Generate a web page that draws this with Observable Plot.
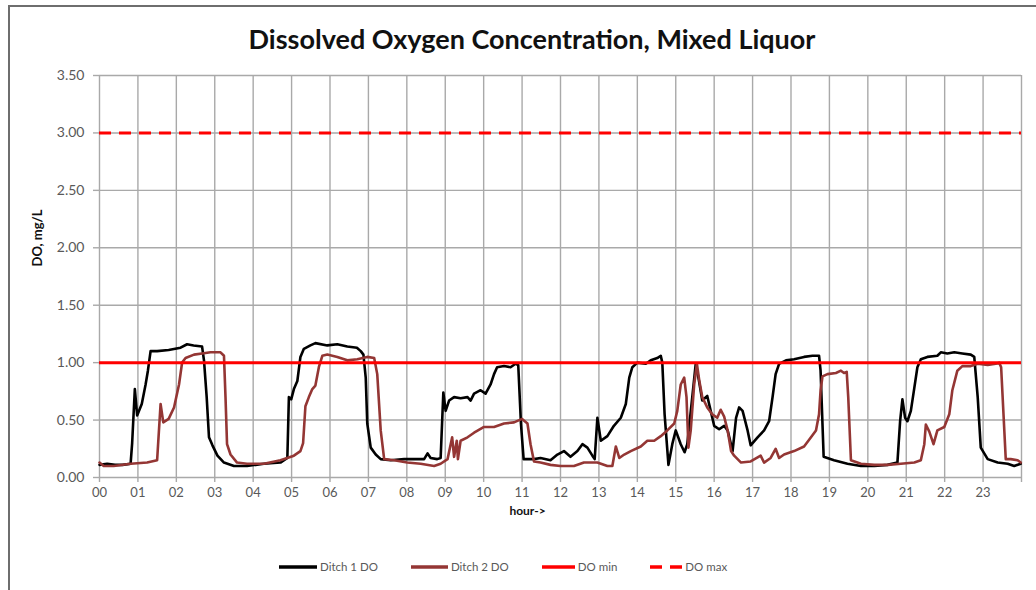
<!DOCTYPE html>
<html>
<head>
<meta charset="utf-8">
<script src="https://cdn.jsdelivr.net/npm/d3@7"></script>
<script src="https://cdn.jsdelivr.net/npm/@observablehq/plot@0.6"></script>
<style>
  html, body { margin: 0; padding: 0; background: #fff; }
  #wrap { position: relative; width: 1036px; height: 590px; overflow: hidden; font-family: Lato, "Open Sans", sans-serif; }
  #border { position: absolute; left: 8px; top: 5px; width: 1040px; height: 600px; border-left: 2.5px solid #6e6e6e; border-top: 2.5px solid #6e6e6e; box-sizing: border-box; pointer-events: none; }
  #title { height: 60px; box-sizing: border-box; padding-top: 23px; padding-left: 28px; text-align: center; font-size: 27px; font-weight: 700; color: #111; line-height: 32px; }
  #chart svg { display: block; }
  #legend { display: flex; align-items: center; padding-left: 279px; margin-top: 30px; font-size: 11.5px; color: #595959; }
  .item { display: flex; align-items: center; margin-right: 33px; }
  .item svg { margin-right: 3px; }
</style>
</head>
<body>
<div id="wrap">
  <div id="border"></div>
  <div id="title">Dissolved Oxygen Concentration, Mixed Liquor</div>
  <div id="chart"></div>
  <div id="legend"></div>
</div>
<script>
// ---- data ----
const hourTicks = d3.range(0, 25);
const hourLabels = ["00","01","02","03","04","05","06","07","08","09","10","11","12","13","14","15","16","17","18","19","20","21","22","23",""];
const yTicks = [0, 0.5, 1, 1.5, 2, 2.5, 3, 3.5];
const doMin = 1.0;
const doMax = 3.0;

const d1Hours = [0.00,0.20,0.40,0.60,0.81,0.85,0.92,0.98,1.10,1.20,1.26,1.33,1.50,1.80,2.11,2.28,2.45,2.67,2.72,2.79,2.85,2.94,3.07,3.24,3.50,3.84,4.28,4.71,4.89,4.93,4.99,5.06,5.15,5.23,5.32,5.49,5.62,5.93,6.19,6.45,6.70,6.80,6.87,6.93,6.97,7.06,7.19,7.32,7.58,7.93,8.20,8.45,8.54,8.62,8.79,8.88,8.95,9.01,9.10,9.23,9.40,9.58,9.66,9.75,9.92,10.05,10.18,10.27,10.35,10.53,10.70,10.83,10.90,10.97,11.04,11.31,11.48,11.74,11.92,12.09,12.26,12.44,12.57,12.70,12.83,12.89,12.96,13.05,13.22,13.39,13.57,13.70,13.79,13.87,14.00,14.22,14.35,14.52,14.61,14.65,14.71,14.81,14.91,15.00,15.13,15.23,15.30,15.43,15.52,15.60,15.69,15.82,15.91,16.00,16.13,16.26,16.35,16.48,16.57,16.65,16.74,16.87,16.95,17.13,17.30,17.43,17.52,17.60,17.69,17.87,18.08,18.34,18.56,18.73,18.77,18.85,19.12,19.47,19.82,20.17,20.51,20.77,20.84,20.90,20.97,21.03,21.12,21.21,21.29,21.38,21.55,21.81,21.90,22.07,22.25,22.46,22.68,22.77,22.86,22.94,23.12,23.38,23.64,23.81,23.98];
const d1Values = [0.11,0.12,0.11,0.11,0.12,0.30,0.77,0.54,0.64,0.81,0.93,1.10,1.10,1.11,1.13,1.16,1.15,1.14,1.02,0.70,0.35,0.28,0.19,0.13,0.10,0.10,0.12,0.13,0.17,0.70,0.68,0.77,0.84,1.05,1.12,1.15,1.17,1.15,1.16,1.14,1.13,1.10,1.07,0.87,0.47,0.26,0.20,0.16,0.15,0.16,0.16,0.16,0.21,0.17,0.16,0.17,0.74,0.58,0.67,0.70,0.69,0.70,0.67,0.73,0.76,0.73,0.81,0.90,0.96,0.97,0.96,0.99,0.98,0.47,0.16,0.16,0.17,0.15,0.20,0.23,0.18,0.23,0.29,0.26,0.19,0.16,0.52,0.32,0.36,0.45,0.52,0.64,0.87,0.96,1.00,0.99,1.02,1.04,1.06,1.00,0.55,0.11,0.29,0.41,0.29,0.22,0.29,0.70,0.99,0.85,0.67,0.71,0.58,0.45,0.42,0.45,0.41,0.23,0.52,0.61,0.58,0.41,0.28,0.35,0.41,0.49,0.70,0.90,0.99,1.02,1.03,1.05,1.06,1.06,0.93,0.18,0.15,0.12,0.10,0.10,0.11,0.13,0.49,0.68,0.52,0.49,0.58,0.78,0.96,1.03,1.05,1.06,1.09,1.08,1.09,1.08,1.07,1.05,0.70,0.26,0.16,0.13,0.12,0.10,0.12];

const d2Hours = [0.00,0.11,0.37,0.81,1.24,1.50,1.59,1.66,1.80,1.94,2.07,2.15,2.24,2.46,2.67,2.89,3.15,3.24,3.28,3.32,3.41,3.58,3.84,4.28,4.71,5.06,5.23,5.30,5.36,5.45,5.54,5.62,5.71,5.80,5.93,6.19,6.45,6.71,6.97,7.15,7.23,7.32,7.41,7.67,8.01,8.36,8.71,8.88,9.06,9.18,9.23,9.30,9.33,9.40,9.58,9.75,10.01,10.27,10.53,10.79,11.00,11.14,11.22,11.31,11.48,11.74,12.00,12.35,12.61,12.96,13.22,13.35,13.44,13.53,13.66,13.83,14.09,14.26,14.44,14.61,14.78,14.96,15.04,15.13,15.22,15.28,15.33,15.39,15.48,15.55,15.61,15.69,15.82,15.95,16.08,16.17,16.26,16.35,16.44,16.52,16.70,16.95,17.21,17.30,17.47,17.60,17.69,17.82,18.08,18.34,18.52,18.65,18.73,18.77,18.82,18.95,19.17,19.30,19.38,19.45,19.49,19.56,19.82,20.17,20.51,20.86,21.21,21.38,21.47,21.51,21.60,21.71,21.81,21.99,22.12,22.20,22.33,22.46,22.68,22.86,23.12,23.33,23.42,23.47,23.59,23.72,23.90,23.98];
const d2Values = [0.13,0.10,0.10,0.12,0.13,0.15,0.64,0.48,0.51,0.61,0.81,1.00,1.04,1.07,1.08,1.09,1.09,1.06,0.70,0.29,0.20,0.13,0.12,0.12,0.15,0.19,0.23,0.30,0.62,0.70,0.77,0.80,0.96,1.06,1.07,1.05,1.02,1.03,1.05,1.04,0.90,0.41,0.16,0.15,0.13,0.12,0.10,0.12,0.16,0.35,0.18,0.32,0.16,0.32,0.35,0.39,0.44,0.44,0.47,0.48,0.51,0.47,0.29,0.14,0.13,0.11,0.10,0.10,0.13,0.13,0.10,0.10,0.27,0.17,0.20,0.23,0.27,0.32,0.32,0.36,0.41,0.47,0.58,0.81,0.87,0.70,0.26,0.41,0.81,0.99,0.85,0.70,0.61,0.55,0.52,0.59,0.53,0.41,0.23,0.19,0.13,0.14,0.19,0.13,0.17,0.25,0.17,0.20,0.23,0.27,0.35,0.41,0.55,0.76,0.88,0.90,0.91,0.93,0.91,0.92,0.70,0.15,0.12,0.11,0.11,0.12,0.13,0.15,0.29,0.46,0.40,0.29,0.41,0.44,0.55,0.76,0.93,0.97,0.97,0.99,0.98,0.99,1.00,0.96,0.16,0.16,0.15,0.13];

const seriesNames = ["Ditch 1 DO", "Ditch 2 DO", "DO min", "DO max"];
const seriesColors = ["#000000", "#943634", "#ff0000", "#ff0000"];
const legendLineWidths = [38, 37, 33, 32];

// ---- build tables ----
const ditch1 = d1Hours.map((h, i) => ({hour: h, value: d1Values[i]}));
const ditch2 = d2Hours.map((h, i) => ({hour: h, value: d2Values[i]}));

const gridColor = "#a9a9a9";

const chart = Plot.plot({
  width: 1036,
  height: 470,
  marginLeft: 99,
  marginRight: 15,
  marginTop: 15,
  marginBottom: 53,
  style: {fontFamily: "Lato, 'Open Sans', sans-serif", color: "#595959", background: "transparent"},
  x: {domain: [0, 24]},
  y: {domain: [0, 3.5]},
  marks: [
    Plot.gridX(hourTicks, {stroke: gridColor, strokeOpacity: 1, strokeWidth: 1.4}),
    Plot.gridY(yTicks, {stroke: gridColor, strokeOpacity: 1, strokeWidth: 1.4}),
    Plot.axisY(yTicks, {tickSize: 6, tickPadding: 9, stroke: gridColor, strokeWidth: 1.4, fill: "#595959", fontSize: 14, tickFormat: d => d.toFixed(2), label: null}),
    Plot.axisX(hourTicks, {tickSize: 5, tickPadding: 5, stroke: gridColor, strokeWidth: 1.4, fill: "#595959", fontSize: 13, tickFormat: (d, i) => hourLabels[i], label: null}),
    Plot.line(ditch1, {x: "hour", y: "value", stroke: seriesColors[0], strokeWidth: 2.6, strokeLinejoin: "round"}),
    Plot.line(ditch2, {x: "hour", y: "value", stroke: seriesColors[1], strokeWidth: 2.6, strokeLinejoin: "round"}),
    Plot.ruleY([doMin], {stroke: seriesColors[2], strokeWidth: 3}),
    Plot.ruleY([doMax], {stroke: seriesColors[3], strokeWidth: 3, strokeDasharray: "12,8"}),
    Plot.text(["DO, mg/L"], {frameAnchor: "left", rotate: -90, dx: -62, dy: -10, fontSize: 13, fontWeight: "bold", fill: "#111"}),
    Plot.text(["hour->"], {frameAnchor: "bottom", dx: -33, dy: 37, fontSize: 12, fontWeight: "bold", fill: "#111"})
  ]
});
document.getElementById("chart").appendChild(chart);

// ---- legend ----
const legend = document.getElementById("legend");
seriesNames.forEach((name, i) => {
  const item = document.createElement("div");
  item.className = "item";
  const w = legendLineWidths[i];
  const dash = i === 3 ? 'stroke-dasharray="12,8"' : "";
  item.innerHTML = `<svg width="${w}" height="8"><line x1="0" y1="4" x2="${w}" y2="4" stroke="${seriesColors[i]}" stroke-width="3.5" ${dash}/></svg><span>${name}</span>`;
  legend.appendChild(item);
});
</script>
</body>
</html>
